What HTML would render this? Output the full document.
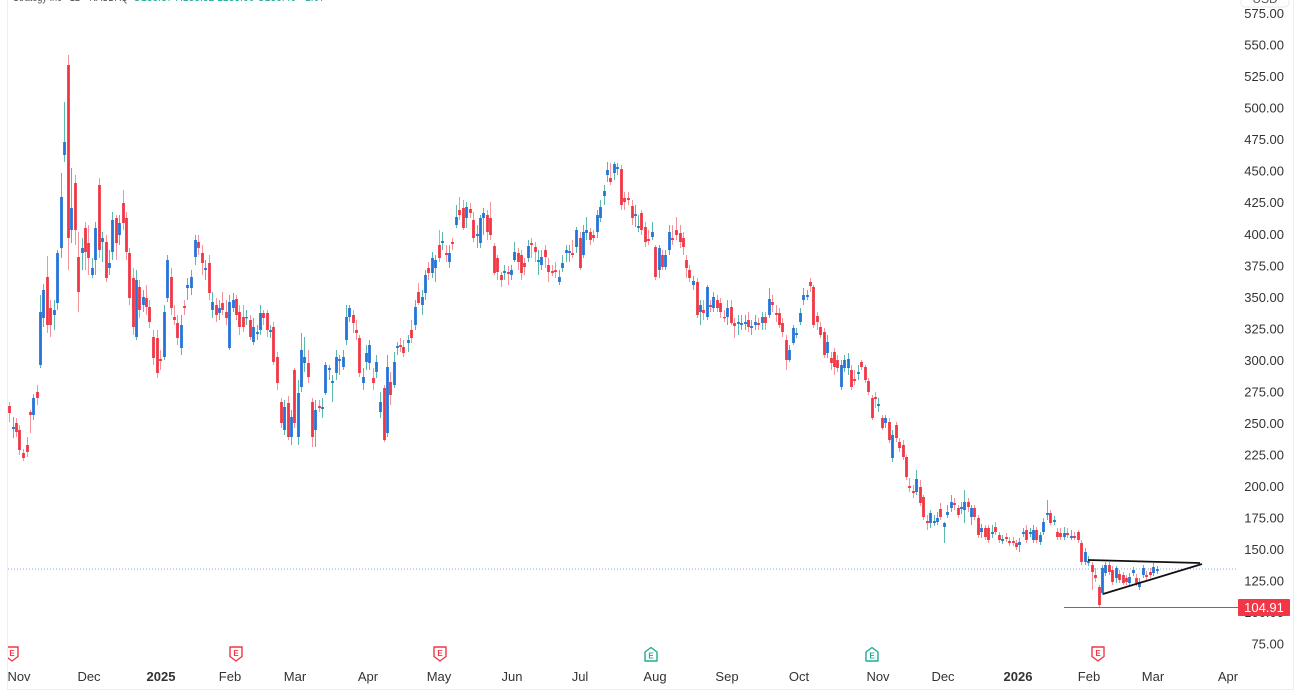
<!DOCTYPE html>
<html><head><meta charset="utf-8">
<style>
html,body{margin:0;padding:0;background:#fff;width:1300px;height:700px;overflow:hidden}
svg{display:block}
text{font-family:"Liberation Sans",Arial,sans-serif}
</style></head><body>
<svg id="s" width="1300" height="700" xmlns="http://www.w3.org/2000/svg">
<rect x="0" y="0" width="1300" height="700" fill="#fff"/>
<!-- header (cut at top) -->
<text x="13" y="1" font-size="12" fill="#555" textLength="115" lengthAdjust="spacingAndGlyphs">Strategy Inc · 1D · NASDAQ</text>
<text x="133" y="1" font-size="12" fill="#22ab94" textLength="192" lengthAdjust="spacingAndGlyphs">O135.37 H138.32 L133.60 C136.40 +1.07</text>
<rect x="1241" y="-20" width="48" height="27" rx="4" fill="#fff" stroke="#e6e8ec"/>
<text x="1265" y="3" font-size="12" fill="#555" text-anchor="middle">USD</text>

<!-- price axis -->
<g font-size="13" fill="#333" text-anchor="end" id="pa"></g>

<!-- month labels -->
<g font-size="13" fill="#333" text-anchor="middle">
<text x="19" y="681">Nov</text>
<text x="89" y="681">Dec</text>
<text x="161" y="681" font-weight="bold">2025</text>
<text x="230" y="681">Feb</text>
<text x="295" y="681">Mar</text>
<text x="368" y="681">Apr</text>
<text x="439" y="681">May</text>
<text x="512" y="681">Jun</text>
<text x="580" y="681">Jul</text>
<text x="655" y="681">Aug</text>
<text x="727" y="681">Sep</text>
<text x="799" y="681">Oct</text>
<text x="878" y="681">Nov</text>
<text x="943" y="681">Dec</text>
<text x="1018" y="681" font-weight="bold">2026</text>
<text x="1089" y="681">Feb</text>
<text x="1153" y="681">Mar</text>
<text x="1228" y="681">Apr</text>
</g>

<!-- earnings badges -->
<g id="eb"></g>
<rect x="0" y="0" width="7" height="700" fill="#fff"/>

<!-- last price dotted line -->
<line x1="8" y1="569" x2="1237" y2="569" stroke="#7fa8ec" stroke-width="1" stroke-dasharray="1 2"/>

<!-- candles -->
<g id="c"></g>

<!-- low line -->
<rect x="1064" y="607" width="174" height="1" fill="#f23645"/>

<!-- triangle -->
<line x1="1088" y1="560" x2="1200" y2="563" stroke="#111" stroke-width="1.8"/>
<line x1="1103" y1="594" x2="1202" y2="564" stroke="#111" stroke-width="1.8"/>

<!-- price label box -->
<rect x="1238" y="599" width="52" height="17" rx="1" fill="#f23645"/>
<text x="1264" y="612" font-size="13" fill="#fff" text-anchor="middle">104.91</text>

<!-- panel border -->
<line x1="7.5" y1="0" x2="7.5" y2="689.5" stroke="#eceef2"/>
<line x1="7.5" y1="689.5" x2="1293.5" y2="689.5" stroke="#eceef2"/>
<line x1="1293.5" y1="0" x2="1293.5" y2="689.5" stroke="#eceef2"/>
</svg>
<script>
(function(){
var NS="http://www.w3.org/2000/svg";
function el(tag,attrs,parent,txt){var e=document.createElementNS(NS,tag);for(var k in attrs)e.setAttribute(k,attrs[k]);if(txt!==undefined)e.textContent=txt;parent.appendChild(e);return e;}
var pa=document.getElementById('pa');
for(var p=75;p<=575;p+=25){
  var y=612.5-(p-100)*1.2611;
  el('text',{x:1284,y:(y+4.6).toFixed(1)},pa,p.toFixed(2));
}
var eb=document.getElementById('eb');
function badge(cx,green){
  var c=green?'#22ab94':'#f23645';
  var d=green?('M'+(cx-6)+',661 h12 v-9 l-6,-4.5 l-6,4.5 z'):('M'+(cx-6)+',647 h12 v9.5 l-6,4.5 l-6,-4.5 z');
  el('path',{d:d,fill:'#fff',stroke:c,'stroke-width':1.4,'stroke-linejoin':'round'},eb);
  el('text',{x:cx,y:green?658.5:656,'font-size':8,'font-weight':'bold',fill:c,'text-anchor':'middle'},eb,'E');
}
badge(12,false);badge(236,false);badge(440,false);badge(1098,false);
badge(651,true);badge(872,true);

var D=[
[9,406,413,0,402,422],[13,427,429,1,417,438],[16,423,432,0,418,437],[19,430,450,0,425,455],[23,453,458,0,449,461],[27,445,452,0,437,457],[30,412,415,0,410,433],[33,398,415,1,394,420],[37,392,398,0,385,405],[40,312,365,1,295,368],[43,290,318,1,284,327],[47,277,325,0,256,333],[50,308,325,0,300,337],[54,310,315,1,300,330],[57,253,303,1,250,310],[61,197,248,1,173,258],[64,142,155,1,102,162],[68,65,238,0,55,270],[71,208,230,1,168,243],[75,183,230,0,175,245],[78,257,292,0,232,312],[82,248,253,1,238,270],[85,228,252,0,222,270],[88,243,258,0,225,275],[92,268,275,1,258,278],[95,228,260,1,222,275],[99,185,250,0,178,258],[102,238,242,1,232,262],[106,242,278,0,235,282],[109,263,268,1,250,275],[112,220,252,1,212,260],[116,218,243,0,215,260],[119,223,235,1,215,245],[123,203,223,0,190,230],[126,218,252,0,212,260],[129,253,298,0,248,305],[133,278,327,0,268,335],[136,280,337,1,270,340],[139,287,310,0,280,318],[143,297,305,1,290,312],[146,298,307,0,285,315],[149,307,322,0,300,328],[153,337,358,0,330,365],[157,338,373,0,330,378],[160,359,361,0,350,370],[164,312,357,1,305,360],[167,260,298,1,255,302],[171,277,308,0,268,315],[174,317,320,0,305,325],[177,323,338,0,315,345],[181,325,348,1,315,355],[184,306,308,0,300,315],[187,285,288,1,278,300],[191,277,288,1,270,295],[195,240,257,1,235,265],[198,242,248,0,235,255],[202,253,263,0,245,275],[205,268,270,1,260,280],[209,263,293,0,255,300],[212,302,310,1,292,318],[216,305,315,0,298,322],[219,308,313,1,300,320],
[222,303,310,0,292,315],[226,312,318,0,300,325],[229,302,348,1,295,350],[233,300,308,1,293,312],[236,299,315,0,295,320],[239,312,327,0,305,335],[243,317,327,0,305,332],[246,317,318,1,310,325],[250,320,337,0,315,340],[253,327,342,1,318,345],[257,332,334,1,325,340],[260,313,330,1,305,335],[263,313,318,0,310,325],[267,313,330,0,310,337],[270,330,332,1,325,338],[273,327,362,0,322,365],[277,357,383,0,352,390],[281,402,423,0,398,428],[284,407,430,1,400,435],[288,403,437,0,396,440],[291,417,437,1,410,445],[294,370,423,0,368,428],[298,393,437,1,380,445],[301,350,387,1,333,392],[304,357,363,1,337,372],[308,363,377,0,350,383],[312,402,437,0,398,447],[315,410,430,1,400,447],[319,406,408,0,400,412],[322,407,409,1,398,418],[325,365,393,1,362,395],[329,368,370,1,365,380],[332,381,383,1,375,402],[336,357,373,1,350,380],[339,359,361,1,355,375],[343,357,367,1,350,370],[346,317,340,1,305,345],[349,308,317,1,305,322],[353,315,323,0,310,333],[356,330,333,0,320,340],[359,338,373,0,335,377],[363,377,383,1,368,390],[366,353,362,1,345,370],[369,345,363,1,340,370],[373,378,383,0,368,390],[376,362,372,1,355,378],[380,402,412,1,392,418],[384,388,440,0,385,442],[387,367,433,1,355,437],[390,382,395,0,372,405],[394,362,385,1,352,388],[397,346,348,1,342,355],[400,345,347,0,338,352],
[403,347,353,0,340,357],[408,340,343,1,335,352],[411,330,338,0,320,343],[415,307,325,1,300,330],[418,292,303,0,283,305],[422,297,305,1,290,315],[425,275,293,1,270,300],[428,268,273,0,262,280],[432,258,273,1,252,278],[435,260,268,1,255,282],[439,245,258,0,230,262],[442,241,243,1,232,250],[446,253,255,0,245,262],[449,253,262,1,245,268],[452,242,244,0,238,250],[456,217,225,1,205,228],[459,210,215,0,197,220],[463,208,228,0,200,230],[466,207,218,1,202,228],[470,209,213,0,203,218],[473,220,238,0,212,242],[477,234,236,1,225,248],[480,218,243,1,215,248],[483,213,218,1,208,235],[487,215,232,0,210,240],[490,218,235,0,202,240],[494,246,273,0,243,275],[497,258,272,0,255,280],[501,275,280,0,272,287],[504,271,273,1,265,280],[508,272,274,0,266,285],[511,270,275,1,265,280],[514,252,260,1,242,262],[518,253,262,0,248,270],[521,255,273,0,250,280],[524,263,267,0,258,275],[528,246,258,1,240,262],[531,243,245,0,238,258],[535,247,252,0,242,262],[538,260,262,1,250,275],[541,257,265,1,250,270],[545,250,257,0,245,268],[548,265,272,0,258,282],[552,271,273,0,265,276],[555,270,272,0,262,278],[559,277,282,1,270,285],[562,263,268,1,255,272],[566,250,253,1,245,262],[569,251,253,1,245,262],[572,253,255,0,240,258],[576,230,247,1,227,253],[580,238,268,0,232,270],[583,232,255,1,225,258],[586,230,233,1,217,240],[590,232,240,0,228,245],[593,235,238,0,230,242],[597,215,232,1,210,238],[600,207,218,1,200,222],[604,191,196,1,185,205],[607,170,175,1,162,182],[610,178,182,0,163,185],[614,164,173,1,162,180],[617,167,169,1,163,175],[621,169,205,0,165,210],
[624,198,202,0,192,210],[628,198,200,0,192,205],[632,206,218,0,200,225],[635,214,216,1,205,227],[638,226,228,1,215,232],[641,213,230,0,210,235],[645,227,242,0,222,247],[648,239,241,0,230,245],[652,232,237,1,222,240],[655,247,277,0,245,280],[659,248,270,1,245,278],[662,255,267,0,250,270],[665,255,267,1,250,270],[669,232,250,1,225,255],[672,238,240,0,225,245],[676,230,235,0,217,240],[680,233,242,0,225,248],[683,238,247,0,232,255],[686,260,268,0,255,278],[689,270,278,0,265,282],[693,281,285,1,276,290],[697,282,315,0,278,318],[700,305,312,1,300,325],[703,310,313,0,300,320],[707,287,317,1,285,320],[710,305,307,0,300,312],[713,297,308,1,292,312],[717,300,308,0,295,312],[720,303,312,0,298,318],[724,317,318,0,310,322],[727,308,317,1,300,325],[731,307,323,0,300,325],[734,323,326,0,318,338],[738,322,324,1,315,335],[741,323,325,1,315,330],[745,322,324,1,315,330],[748,320,327,0,312,332],[751,326,328,1,320,335],[755,322,325,1,315,330],[758,323,325,0,318,330],[762,317,323,1,312,330],[765,317,323,0,312,330],[769,299,315,1,288,318],[772,302,305,0,295,312],[776,313,315,0,305,322],[779,313,325,0,308,328],[782,323,332,0,318,337],[786,340,360,0,335,370],[789,350,360,1,345,362],[793,328,343,1,325,345],[796,333,335,1,328,338],[800,313,322,1,308,325],[803,295,300,1,288,305],[807,295,297,1,290,300],[810,282,286,0,278,292],[813,287,325,0,285,328],[817,316,322,0,312,330],[820,327,335,0,322,338],[824,332,355,0,328,358],[827,342,353,1,335,358],[831,358,363,0,352,370],[834,352,367,0,348,375],[837,360,368,0,355,372],[841,365,387,1,360,390],[844,360,368,1,355,372],[848,359,368,1,353,375],[851,370,387,0,365,390],[854,379,381,0,370,385],[858,372,374,1,365,380],
[861,362,367,0,360,370],[865,367,380,0,365,383],[868,381,392,0,378,395],[872,398,418,0,395,420],[875,397,399,0,392,408],[878,404,406,1,398,412],[882,418,428,0,415,430],[885,418,423,1,415,428],[889,422,440,0,418,443],[892,435,458,1,430,462],[896,425,438,0,422,442],[899,442,448,0,438,452],[903,445,457,0,440,460],[906,457,477,0,455,480],[909,486,488,0,478,492],[913,491,493,0,485,498],[916,479,492,1,470,495],[920,487,503,0,480,506],[923,497,517,0,495,520],[927,521,523,0,515,530],[930,513,523,1,510,528],[934,521,523,1,515,526],[937,518,522,1,512,525],[940,509,517,0,503,520],[944,523,527,1,522,543],[947,512,515,1,505,518],[951,502,508,1,495,512],[954,503,505,0,498,510],[958,508,515,0,505,518],[961,507,509,1,502,514],[964,502,510,1,490,523],[968,502,507,0,498,512],[971,508,517,1,505,525],[974,508,517,0,505,520],[978,518,535,0,515,538],[981,528,532,1,524,538],[985,528,537,0,525,540],[988,528,540,0,525,543],[992,532,534,1,525,538],[995,527,532,0,522,535],[999,535,540,0,532,543],[1002,539,541,1,535,544],[1006,537,539,0,533,542],[1009,541,543,0,537,546],[1013,541,543,0,537,546],[1016,543,547,0,540,550],[1019,542,545,1,538,552],[1023,532,534,1,528,537],[1026,530,540,0,525,543],[1030,532,534,1,528,537],[1033,530,540,1,525,543],[1036,530,540,0,527,543],[1040,535,542,1,532,545],[1043,522,532,1,518,535],[1047,513,515,1,500,520],[1050,513,523,0,510,525],[1054,520,522,1,516,525],[1057,532,537,0,528,540],[1060,533,537,0,528,540],[1064,533,537,1,527,540],[1067,533,535,0,528,538],[1071,536,538,1,530,540],[1074,536,538,0,532,540],[1078,532,540,0,530,543],
[1081,543,562,0,540,565],[1085,552,562,1,548,565],[1088,561,563,1,556,566],[1092,565,572,0,562,590],[1095,575,578,0,568,582],[1099,587,605,0,585,608],[1102,568,593,1,565,595],[1105,565,573,1,562,576],[1109,565,572,0,562,575],[1112,570,582,0,566,585],[1116,568,578,1,566,583],[1119,574,580,0,570,583],[1123,575,583,0,572,585],[1126,578,582,0,575,585],[1129,577,583,1,573,586],[1133,570,573,1,567,576],[1136,578,583,0,574,586],[1139,582,587,1,578,590],[1143,568,575,1,565,578],[1146,575,577,0,571,580],[1150,572,575,0,568,578],[1153,567,573,1,563,576],[1157,569,571,1,566,574]
];
var g=document.getElementById('c');
D.forEach(function(d){
  var x=d[0],a=Math.min(d[1],d[2]),b=Math.max(d[1],d[2]),u=d[3];
  var hi=d.length>4?d[4]:a-4,lo=d.length>5?d[5]:b+4;
  if(b-a<1.3)b=a+1.3;
  el('line',{x1:x+0.5,x2:x+0.5,y1:hi,y2:lo,stroke:u?'#5cb8ad':'#f4939c','stroke-width':1},g);
  el('rect',{x:x-0.9,y:a,width:2.8,height:(b-a).toFixed(1),fill:u?'#2574d8':'#f23645'},g);
});
})();
</script>
</body></html>
